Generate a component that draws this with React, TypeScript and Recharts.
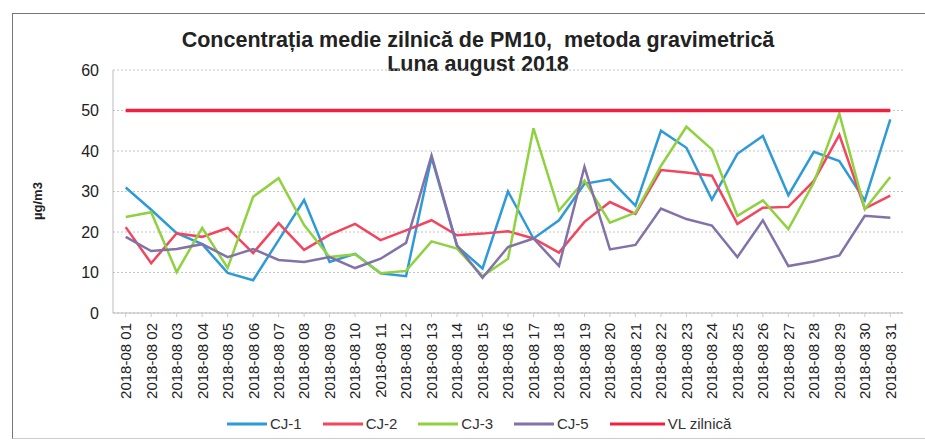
import { LineChart, Line, XAxis, YAxis, CartesianGrid } from 'recharts';

const days = [
  '01', '02', '03', '04', '05', '06', '07', '08', '09', '10',
  '11', '12', '13', '14', '15', '16', '17', '18', '19', '20',
  '21', '22', '23', '24', '25', '26', '27', '28', '29', '30', '31',
];

const cj1 = [31, 25.5, 19.7, 17, 9.9, 8.1, 18, 27.9, 12.6, 14.6, 9.8, 9.1, 38.4, 16.5, 11, 30, 18.4, 22.9, 31.9, 33, 26.5, 45, 40.8, 28, 39.3, 43.7, 29.1, 39.8, 37.5, 27.8, 47.8];
const cj2 = [21.2, 12.3, 19.7, 18.8, 21, 14.8, 22.2, 15.6, 19.3, 22, 18, 20.4, 22.9, 19.2, 19.6, 20.2, 18.4, 14.9, 22.5, 27.4, 24.5, 35.3, 34.7, 33.9, 22, 26, 26.2, 32.6, 44, 25.8, 29];
const cj3 = [23.7, 24.9, 10.1, 21, 11.1, 28.7, 33.3, 21.7, 13.8, 14.5, 9.8, 10.4, 17.7, 15.9, 9.1, 13.4, 45.6, 25.3, 32.7, 22.3, 24.8, 36.3, 46, 40.4, 24, 27.8, 20.7, 32.2, 49.2, 25.6, 33.6];
const cj5 = [18.8, 15.3, 15.8, 17, 13.8, 15.8, 13.1, 12.6, 13.8, 11.1, 13.4, 17.3, 38.9, 16.7, 8.7, 16.3, 18.4, 11.6, 36.1, 15.7, 16.8, 25.8, 23.2, 21.6, 13.8, 22.9, 11.6, 12.7, 14.2, 24, 23.5];
const vlZilnica = 50;

const yTicks = [0, 10, 20, 30, 40, 50, 60];

const series = [
  { key: 'cj1', name: 'CJ-1', color: '#2f9ad8', width: 2.5 },
  { key: 'cj2', name: 'CJ-2', color: '#f2455e', width: 2.5 },
  { key: 'cj3', name: 'CJ-3', color: '#8fd13f', width: 2.5 },
  { key: 'cj5', name: 'CJ-5', color: '#8272a8', width: 2.5 },
  { key: 'vl', name: 'VL zilnică', color: '#f2203f', width: 3.5 },
];

const data = days.map((d, i) => ({
  day: `2018-08 ${d}`,
  cj1: cj1[i],
  cj2: cj2[i],
  cj3: cj3[i],
  cj5: cj5[i],
  vl: vlZilnica,
}));

const font = 'Arial, "Liberation Sans", sans-serif';

function DayTick(props: any) {
  const { x, y, payload } = props;
  const ty = y + 4;
  return (
    <text
      x={x}
      y={ty}
      transform={`rotate(-90, ${x}, ${ty})`}
      textAnchor="end"
      dy="0.36em"
      fontSize={15}
      fill="#222"
      fontFamily={font}
    >
      {payload.value}
    </text>
  );
}

export default function App() {
  return (
    <div style={{ position: 'relative', width: 925, height: 441, background: '#fff', fontFamily: font, overflow: 'hidden' }}>
      <style>{'body{margin:0}'}</style>
      <div style={{ position: 'absolute', left: 12, top: 13, width: 930, height: 424, borderTop: '1px solid #777', borderLeft: '1px solid #777', borderBottom: '1px solid #ccc' }} />
      <div style={{ position: 'absolute', left: 0, top: 28, width: 956, textAlign: 'center', fontWeight: 'bold', fontSize: 21.5, lineHeight: '24px', color: '#222' }}>
        <div>Concentrația medie zilnică de PM10,&nbsp; metoda gravimetrică</div>
        <div>Luna august 2018</div>
      </div>
      <div style={{ position: 'absolute', left: 37, top: 201, transform: 'translate(-50%, -50%) rotate(-90deg)', fontWeight: 'bold', fontSize: 13, color: '#222', whiteSpace: 'nowrap' }}>
        µg/m3
      </div>
      <div style={{ position: 'absolute', left: 0, top: 0 }}>
        <LineChart width={925} height={441} data={data} margin={{ top: 70, right: 22, left: 73, bottom: 38 }}>
          <CartesianGrid vertical={false} stroke="#c4c4c4" strokeDasharray="2 2" />
          <XAxis
            dataKey="day"
            interval={0}
            height={90}
            padding={{ left: 12.7, right: 12.7 }}
            tick={<DayTick />}
            axisLine={{ stroke: '#bbb' }}
            tickLine={{ stroke: '#ccc' }}
            tickSize={4}
          />
          <YAxis
            domain={[0, 60]}
            ticks={yTicks}
            width={40}
            tick={{ fontSize: 16, fill: '#222', fontFamily: font }}
            tickMargin={8}
            axisLine={{ stroke: '#bbb' }}
            tickLine={false}
          />
          {series.map((s) => (
            <Line
              key={s.key}
              type="linear"
              dataKey={s.key}
              name={s.name}
              stroke={s.color}
              strokeWidth={s.width}
              dot={false}
              isAnimationActive={false}
            />
          ))}
        </LineChart>
      </div>
      <div style={{ position: 'absolute', left: 227, top: 415, display: 'flex', alignItems: 'center', fontSize: 15, color: '#333' }}>
        {series.map((s) => (
          <div key={s.key} style={{ display: 'flex', alignItems: 'center', marginRight: 21 }}>
            <svg width={s.key === 'vl' ? 55 : 40} height={6}>
              <line x1={0} y1={3} x2={s.key === 'vl' ? 55 : 40} y2={3} stroke={s.color} strokeWidth={3} />
            </svg>
            <span style={{ marginLeft: 3 }}>{s.name}</span>
          </div>
        ))}
      </div>
    </div>
  );
}
